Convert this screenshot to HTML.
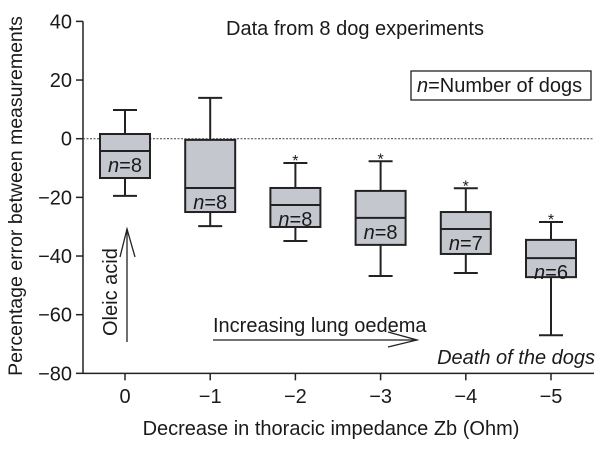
<!DOCTYPE html>
<html><head><meta charset="utf-8"><style>
body{margin:0;background:#fff}
svg text{font-family:"Liberation Sans",sans-serif;fill:#1a1a1a}
</style></head><body>
<svg width="604" height="446" viewBox="0 0 604 446">
<g id="axes"></g><g id="boxes"></g>
<text x="355" y="35" font-size="20" text-anchor="middle">Data from 8 dog experiments</text>
<g>
<rect x="411" y="71" width="180" height="29" fill="#fff" stroke="#222" stroke-width="1.3"/>
<text x="417" y="92" font-size="20"><tspan font-style="italic">n</tspan>=Number of dogs</text>
</g>
<text x="595" y="364" font-size="20" font-style="italic" text-anchor="end">Death of the dogs</text>
<text x="213" y="332" font-size="20">Increasing lung oedema</text>
<g stroke="#222" stroke-width="1.3" fill="none">
<line x1="213" y1="340" x2="417" y2="340"/><polyline points="388,332 417,340 388,347"/></g>
<text transform="translate(117,336) rotate(-90)" font-size="20">Oleic acid</text>
<g stroke="#222" stroke-width="1.3" fill="none">
<line x1="127" y1="342" x2="127" y2="229"/><polyline points="120,257 127,229 135,257"/></g>
<text x="331" y="435" font-size="20" text-anchor="middle">Decrease in thoracic impedance Zb (Ohm)</text>
<text transform="translate(22,196) rotate(-90)" font-size="19.5" text-anchor="middle">Percentage error between measurements</text>
</svg>
<script>
const categories=["0","\u22121","\u22122","\u22123","\u22124","\u22125"];
const whiskerHigh=[9.8,13.9,-8.3,-7.7,-16.9,-28.4];
const q3=[1.6,-0.4,-16.8,-17.8,-25,-34.5];
const medians=[-4.2,-16.8,-22.6,-27,-30.8,-40.7];
const q1=[-13.4,-25,-30.1,-36.2,-39.3,-47.2];
const whiskerLow=[-19.5,-29.8,-34.9,-46.8,-45.8,-67];
const nDogs=[8,8,8,8,7,6];
const significant=[false,false,true,true,true,true];
const yTicks=[40,20,0,-20,-40,-60,-80];
const NS="http://www.w3.org/2000/svg";
const y=v=>138.7-2.933*v;
const x=i=>125+85.2*i;
function mk(t,a,p){const e=document.createElementNS(NS,t);for(const k in a)e.setAttribute(k,a[k]);p.appendChild(e);return e;}
const ax=document.getElementById('axes'),bx=document.getElementById('boxes');
let l=mk('line',{x1:83,y1:y(40),x2:83,y2:y(-80),stroke:'#222','stroke-width':1.5},ax);


l=mk('line',{x1:83,y1:y(-80),x2:594,y2:y(-80),stroke:'#222','stroke-width':1.5},ax);


l=mk('line',{x1:83,y1:y(0),x2:594,y2:y(0),stroke:'#444','stroke-width':1,'stroke-dasharray':'2,1.5'},ax);


yTicks.forEach(v=>{mk('line',{x1:76,y1:y(v),x2:83,y2:y(v),stroke:'#222','stroke-width':1.5},ax);
const t=mk('text',{x:72,y:y(v)+7,'font-size':20,'text-anchor':'end'},ax);t.textContent=v<0?'\u2212'+(-v):v;

});
categories.forEach((c,i)=>{const cx=x(i);
mk('line',{x1:cx,y1:y(-80),x2:cx,y2:y(-80)+7,stroke:'#222','stroke-width':1.5},ax);
const t=mk('text',{x:cx,y:403,'font-size':20,'text-anchor':'middle'},ax);t.textContent=c;


const g=mk('g',{stroke:'#222','stroke-width':2,fill:'none'},bx);


mk('line',{x1:cx,y1:y(whiskerHigh[i]),x2:cx,y2:y(q3[i])},g);
mk('line',{x1:cx,y1:y(q1[i]),x2:cx,y2:y(whiskerLow[i])},g);
mk('line',{x1:cx-12,y1:y(whiskerHigh[i]),x2:cx+12,y2:y(whiskerHigh[i])},g);
mk('line',{x1:cx-12,y1:y(whiskerLow[i]),x2:cx+12,y2:y(whiskerLow[i])},g);
mk('rect',{x:cx-25,y:y(q3[i]),width:50,height:y(q1[i])-y(q3[i]),fill:'#c4c7cd'},g);
mk('line',{x1:cx-25,y1:y(medians[i]),x2:cx+25,y2:y(medians[i])},g);
const n=mk('text',{x:cx,y:y(medians[i])+21,'font-size':20,'text-anchor':'middle',stroke:'none',fill:'#333'},g);
n.innerHTML='<tspan font-style="italic">n</tspan>='+nDogs[i];
if(significant[i]){const s=mk('text',{x:cx,y:y(whiskerHigh[i])+3,'font-size':16,'text-anchor':'middle',stroke:'none',fill:'#777'},g);s.textContent='*';}
});
</script>
</body></html>
